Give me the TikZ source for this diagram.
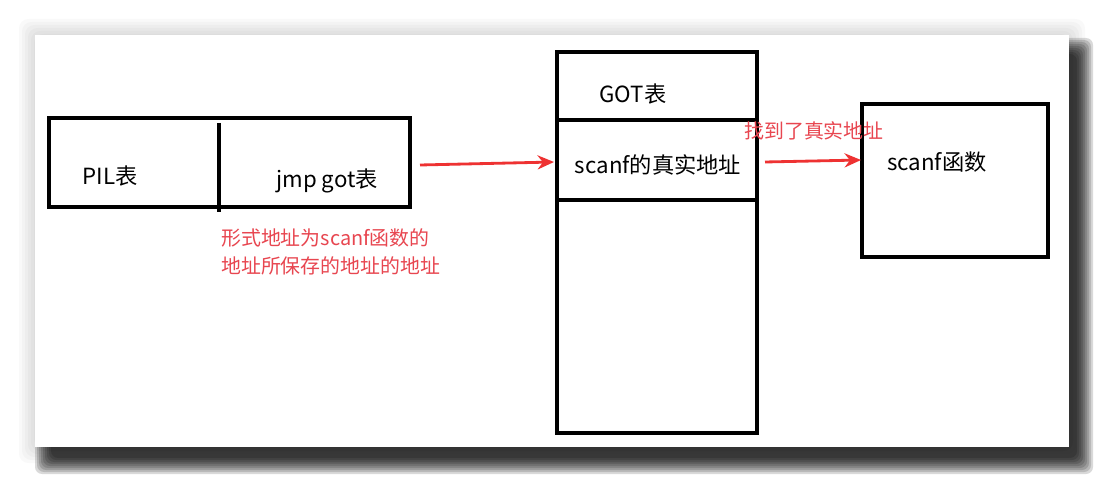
\documentclass[tikz,border=0pt]{standalone}
\usepackage{fontspec}
\setmainfont{Noto Sans CJK SC}
\usetikzlibrary{arrows.meta}
\definecolor{arrowred}{RGB}{238,50,50}
\definecolor{notered}{RGB}{232,70,80}
\tikzset{
  box/.style={draw=black, line width=3.2pt},
  txt/.style={font=\fontsize{19}{21}\selectfont, inner sep=0pt},
  note/.style={text=notered, font=\fontsize{17}{24}\selectfont, inner sep=0pt, align=left},
  redarrow/.style={draw=arrowred, line width=2.4pt, -{Stealth[length=14pt,width=12pt]}}
}
\begin{document}
\begin{tikzpicture}[x=0.03cm,y=-0.03cm]
\useasboundingbox (0,0) rectangle (1104,483);
% soft halo and shadow of the card
\foreach \r in {16,13,...,1}
  \fill[black,opacity=0.025,rounded corners=8] (35-\r,35-\r) rectangle (1069+\r,447+\r);
\foreach \r in {12,10,...,-4}
  \fill[black,opacity=0.15,rounded corners=6] (47-\r,50-\r) rectangle (1081+\r,462+\r);
\fill[white] (35,35) rectangle (1069,447);
% PIL table
\draw[box] (49,118) rectangle (410,207);
\draw[box] (219,123) -- (219,212);
\node[txt] (pil) at (110,176) {PIL表};
\node[txt] (jmp) at (327,181) {jmp got表};
\coordinate (pilout) at (420,165);
% GOT table
\draw[box] (557,52) rectangle (757,433);
\draw[box] (557,120) -- (757,120);
\draw[box] (557,200) -- (757,200);
\node[txt] (got) at (633,94) {GOT表};
\node[txt] (real) at (658,165) {scanf的真实地址};
\coordinate (gotin) at (554,162);
\coordinate (gotout) at (765,162);
% scanf function
\draw[box] (862,104) rectangle (1048,257);
\node[txt] (func) at (937,162) {scanf函数};
\coordinate (funcin) at (861,160);
% arrows and notes
\draw[redarrow] (pilout) -- (gotin);
\draw[redarrow] (gotout) -- (funcin);
\node[note, anchor=north west] (form) at (221,228) {形式地址为scanf函数的\\地址所保存的地址的地址};
\node[note] (found) at (814,131) {找到了真实地址};
\end{tikzpicture}
\end{document}
